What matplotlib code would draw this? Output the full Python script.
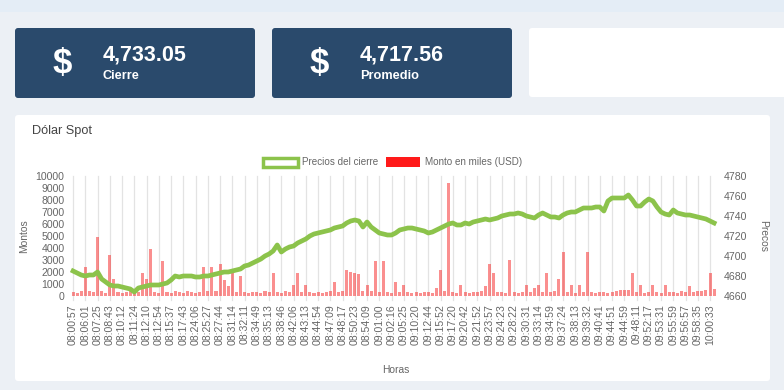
import numpy as np
import matplotlib.pyplot as plt
from matplotlib.patches import FancyBboxPatch, Rectangle

# summary cards
card_values = ["4,733.05", "4,717.56"]
card_labels = ["Cierre", "Promedio"]

# x tick labels (one every 3 trades)
horas = ["08:00:57", "08:06:01", "08:07:25", "08:08:43", "08:10:12", "08:11:24",
         "08:12:10", "08:12:54", "08:15:37", "08:17:43", "08:24:06", "08:25:27",
         "08:27:44", "08:31:14", "08:32:11", "08:34:49", "08:35:13", "08:38:46",
         "08:42:06", "08:43:13", "08:44:54", "08:47:09", "08:48:17", "08:50:23",
         "08:54:09", "09:01:00", "09:02:16", "09:05:25", "09:10:20", "09:12:44",
         "09:15:52", "09:17:20", "09:20:42", "09:21:52", "09:23:57", "09:24:23",
         "09:28:22", "09:30:31", "09:33:14", "09:34:59", "09:37:24", "09:38:13",
         "09:39:32", "09:40:41", "09:44:51", "09:44:59", "09:48:11", "09:52:17",
         "09:53:31", "09:55:59", "09:56:57", "09:58:35", "10:00:33"]

# closing price per trade
precios = [4685, 4683, 4681, 4680, 4681, 4681, 4684, 4677, 4674, 4671,
           4670, 4670, 4669, 4668, 4667, 4664, 4668, 4669, 4670, 4671,
           4671, 4671, 4672, 4673, 4676, 4680, 4679, 4680, 4680, 4680,
           4679, 4679, 4680, 4680, 4681, 4682, 4683, 4684, 4684, 4685,
           4686, 4687, 4690, 4691, 4693, 4695, 4697, 4700, 4702, 4705,
           4711, 4704, 4707, 4709, 4710, 4713, 4715, 4717, 4720, 4722,
           4723, 4724, 4725, 4726, 4728, 4729, 4730, 4733, 4735, 4736,
           4735, 4729, 4734, 4729, 4726, 4723, 4722, 4721, 4721, 4723,
           4726, 4727, 4728, 4728, 4727, 4726, 4725, 4723, 4724, 4726,
           4728, 4730, 4732, 4733, 4731, 4731, 4733, 4732, 4734, 4735,
           4736, 4737, 4736, 4737, 4738, 4740, 4741, 4742, 4742, 4743,
           4742, 4740, 4739, 4738, 4741, 4743, 4741, 4739, 4739, 4738,
           4741, 4743, 4744, 4744, 4746, 4748, 4748, 4748, 4749, 4749,
           4745, 4755, 4758, 4758, 4758, 4758, 4761, 4756, 4750, 4750,
           4754, 4757, 4755, 4749, 4744, 4742, 4741, 4746, 4743, 4742,
           4741, 4741, 4740, 4739, 4738, 4737, 4735, 4733]

# amount in thousands USD per trade
montos = [320, 280, 450, 2400, 380, 300, 4900, 410, 290, 3400,
          1400, 350, 260, 310, 420, 280, 360, 1900, 1400, 3900,
          330, 290, 2900, 340, 270, 380, 300, 260, 410, 320,
          290, 350, 2400, 380, 2400, 420, 2700, 1300, 800, 1900,
          360, 1700, 310, 280, 340, 300, 270, 390, 320, 1900,
          350, 280, 420, 330, 900, 1900, 360, 900, 300, 280,
          340, 270, 310, 380, 1200, 330, 450, 2200, 2000, 1900,
          1800, 420, 900, 380, 2900, 340, 2900, 310, 290, 1200,
          330, 900, 300, 270, 320, 280, 350, 300, 260, 700,
          2200, 380, 9400, 320, 290, 900, 310, 270, 340, 300,
          420, 800, 2700, 1900, 360, 310, 290, 3000, 340, 280,
          320, 900, 300, 700, 900, 350, 1900, 310, 420, 1400,
          3700, 330, 900, 290, 900, 340, 3700, 300, 280, 350,
          310, 270, 330, 380, 520, 540, 500, 1900, 320, 900,
          290, 340, 900, 300, 280, 900, 350, 320, 290, 410,
          300, 800, 340, 450, 380, 520, 1900, 600]

W, H = 784, 390
fig = plt.figure(figsize=(W / 100, H / 100), dpi=100)
fig.patch.set_facecolor("#ecf0f5")
plt.rcParams["font.family"] = ["Liberation Sans", "DejaVu Sans"]

# background layer in pixel coordinates
bg = fig.add_axes([0, 0, 1, 1], zorder=0)
bg.set_xlim(0, W)
bg.set_ylim(H, 0)
bg.axis("off")
bg.add_patch(Rectangle((0, 0), W, 12, color="#e4edf6", lw=0))

navy = "#2a4a6c"
for k, (val, lab) in enumerate(zip(card_values, card_labels)):
    x0 = 15 + k * 257
    bg.add_patch(FancyBboxPatch((x0, 28), 240, 70, boxstyle="round,pad=0,rounding_size=3",
                                fc=navy, ec="none"))
    bg.text(x0 + 47, 64, "$", color="white", fontsize=25, fontweight="bold",
            ha="center", va="center")
    bg.text(x0 + 88, 55, val, color="white", fontsize=15.5, fontweight="bold",
            ha="left", va="center")
    bg.text(x0 + 88, 76, lab, color="white", fontsize=9.2, fontweight="bold",
            ha="left", va="center")
bg.add_patch(FancyBboxPatch((529, 28), 260, 69, boxstyle="round,pad=0,rounding_size=3",
                            fc="white", ec="none"))

# chart panel
bg.add_patch(FancyBboxPatch((15, 115), 755, 266, boxstyle="round,pad=0,rounding_size=3",
                            fc="white", ec="none"))
bg.text(32, 131, "Dólar Spot", fontsize=9.2, color="#444444", ha="left", va="center")

# legend
green = "#8cc34b"
red_bar = (0.97, 0.2, 0.2, 0.55)
bg.add_patch(Rectangle((263, 157.5), 35, 9, fc="white", ec=green, lw=2.5))
bg.text(302, 162, "Precios del cierre", fontsize=7.1, color="#666666", va="center")
bg.add_patch(Rectangle((386, 157), 34, 10, fc="#ff1a1a", ec="none"))
bg.text(425, 162, "Monto en miles (USD)", fontsize=7.1, color="#666666", va="center")

# axis titles
bg.text(24, 236, "Montos", fontsize=7.4, color="#666666", rotation=90, ha="center", va="center")
bg.text(763, 236, "Precos", fontsize=7.4, color="#666666", rotation=-90, ha="center", va="center")
bg.text(396, 370, "Horas", fontsize=7.4, color="#666666", ha="center", va="center")

# plot area
left, right, top, bottom = 70, 718, 176, 296
ax = fig.add_axes([left / W, 1 - bottom / H, (right - left) / W, (bottom - top) / H], zorder=1)
ax.set_facecolor("none")

n = len(precios)
idx = np.arange(n)
tick_pos = idx[::3][:len(horas)]

for t in tick_pos:
    ax.axvline(t, color="#e3e3e3", lw=0.9, zorder=0, clip_on=False, ymin=-0.03, ymax=1)

ax.bar(idx, montos, width=0.75, color=red_bar, lw=0, zorder=2)
ax.set_ylim(0, 10000)
ax.set_yticks(np.arange(0, 10001, 1000))
ax.set_xlim(-0.75, n - 0.05)
ax.set_xticks(tick_pos)
ax.set_xticklabels(horas, rotation=90)

ax2 = ax.twinx()
ax2.plot(idx, precios, color=green, lw=3.4, solid_joinstyle="round", zorder=3)
ax2.set_ylim(4660, 4780)
ax2.set_yticks(np.arange(4660, 4781, 20))

for a in (ax, ax2):
    for s in a.spines.values():
        s.set_visible(False)
    a.tick_params(length=0, labelsize=7.6, labelcolor="#666666")
ax.tick_params(axis="y", pad=4)
ax.tick_params(axis="x", pad=6)
ax2.tick_params(axis="y", pad=4)

fig.savefig("out.png", dpi=100, facecolor=fig.get_facecolor())
